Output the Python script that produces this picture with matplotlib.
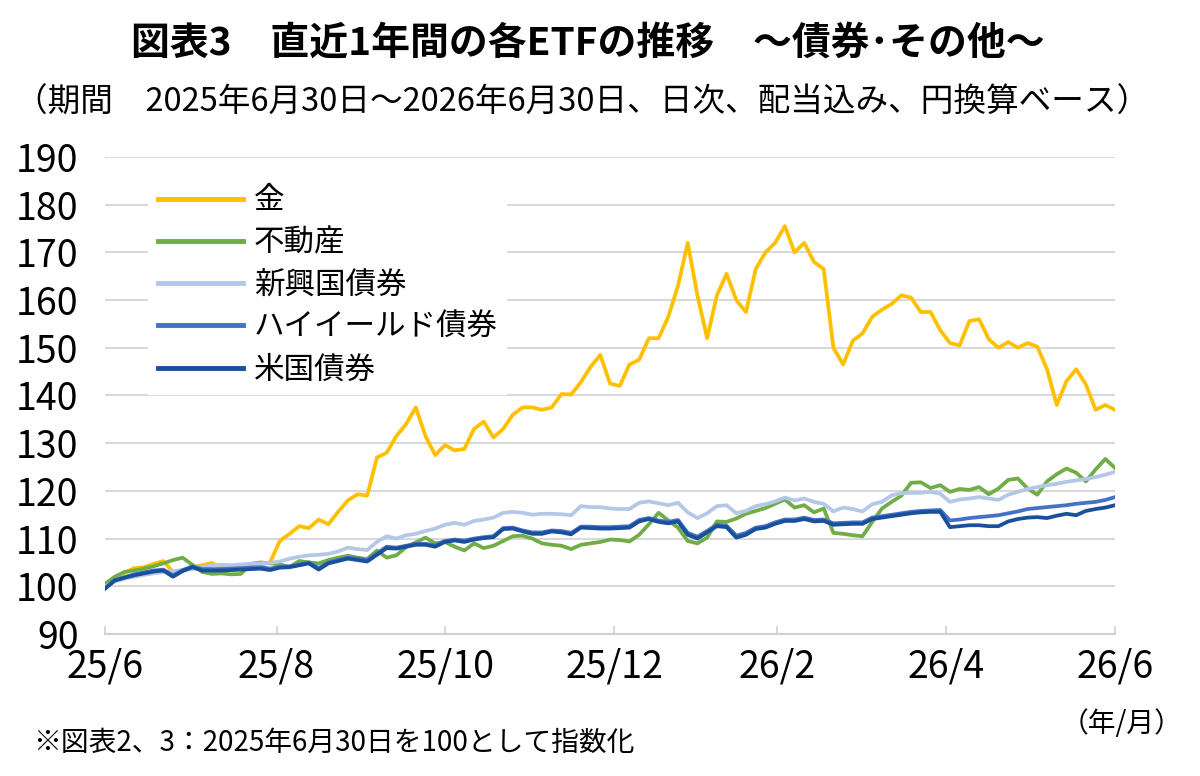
import pandas as pd
import matplotlib
matplotlib.use("Agg")
import matplotlib.pyplot as plt

plt.rcParams['font.family'] = ['Noto Sans CJK JP', 'DejaVu Sans']

dates = pd.date_range('2025-06-30', '2026-06-30', periods=105)

gold = [100, 101.8, 102.8, 103.8, 104, 104.7, 105.3, 103, 103.2, 104,
        104.4, 104.9, 103.8, 104, 103.8, 104, 104.5, 105, 109.5, 111,
        112.6, 112.2, 114, 113, 115.6, 118, 119.3, 119, 127, 128,
        131.5, 134, 137.5, 131.5, 127.5, 129.6, 128.5, 128.8, 133, 134.5,
        131.2, 133, 136, 137.5, 137.5, 137, 137.5, 140.3, 140.2, 142.8,
        146, 148.5, 142.5, 142, 146.5, 147.5, 152, 152, 156.5, 163,
        172, 161, 152, 161, 165.5, 160, 157.5, 166.5, 170, 172,
        175.5, 170, 172, 168, 166.5, 150, 146.5, 151.5, 153, 156.5,
        158, 159.2, 161, 160.5, 157.5, 157.5, 153.7, 151, 150.5, 155.6,
        156, 151.8, 150, 151.2, 150, 151, 150.2, 145.5, 138, 143,
        145.5, 142.3, 137, 138, 137]

reit = [100.5, 102, 103, 103.3, 103.7, 104.2, 104.8, 105.5, 106, 104.5,
        103, 102.6, 102.7, 102.5, 102.6, 104.7, 105, 104.8, 104.6, 104,
        105.3, 105, 104.8, 105.5, 106, 106.4, 106, 105.7, 107.5, 106,
        106.5, 108.2, 109.2, 110.2, 109, 109.3, 108.3, 107.5, 109, 108,
        108.5, 109.5, 110.5, 110.6, 110, 109, 108.7, 108.5, 107.8, 108.7,
        109, 109.3, 109.8, 109.7, 109.4, 110.8, 113, 115.4, 113.8, 112.3,
        109.5, 109, 110.2, 113.6, 113.5, 114.2, 115.2, 115.8, 116.4, 117.3,
        118.2, 116.5, 117, 115.5, 116.3, 111.2, 111, 110.7, 110.5, 113.5,
        116.3, 117.7, 119, 121.7, 121.8, 120.6, 121.2, 119.8, 120.4, 120.2,
        120.8, 119.3, 120.5, 122.3, 122.6, 120.5, 119.2, 122, 123.5, 124.7,
        123.8, 122, 124.5, 126.7, 124.8]

em_bond = [100, 101, 101.6, 102, 102.4, 102.7, 103, 103.2, 103.4, 103.6,
           104, 104.4, 104.5, 104.4, 104.6, 104.7, 104.8, 104.9, 105.2, 105.8,
           106.2, 106.5, 106.6, 106.8, 107.3, 108.1, 107.8, 107.6, 109.3, 110.5,
           110, 110.7, 111, 111.6, 112.1, 112.9, 113.3, 112.9, 113.7, 114,
           114.4, 115.4, 115.6, 115.4, 115, 115.2, 115.2, 115.1, 114.9, 116.8,
           116.6, 116.6, 116.3, 116.2, 116.2, 117.5, 117.8, 117.4, 117, 117.5,
           115.5, 114.3, 115.3, 116.8, 117, 115.3, 115.8, 116.8, 117.2, 117.8,
           118.6, 118, 118.4, 117.7, 117.3, 115.7, 116.5, 116.2, 115.7, 117.2,
           117.7, 119.1, 119.5, 119.6, 119.6, 119.8, 119.4, 117.7, 118.2, 118.4,
           118.7, 118.4, 118.1, 119.2, 119.8, 120.4, 120.8, 121.2, 121.5, 121.9,
           122.2, 122.5, 122.9, 123.4, 124]

hy_bond = [99.6, 101.3, 101.9, 102.5, 102.9, 103.3, 103.5, 102.3, 103.4, 104.2,
           103.6, 103.6, 103.6, 103.7, 103.8, 103.9, 104, 103.7, 104.1, 104.2,
           104.6, 105, 103.8, 105, 105.5, 106, 105.8, 105.5, 106.9, 108.3,
           108.1, 108.5, 108.9, 108.9, 108.6, 109.5, 109.8, 109.6, 110, 110.3,
           110.5, 112.2, 112.3, 111.7, 111.3, 111.3, 111.7, 111.6, 111.2, 112.5,
           112.5, 112.4, 112.4, 112.5, 112.6, 113.9, 114.3, 113.8, 113.5, 113.9,
           111.2, 110.4, 111.6, 112.9, 112.7, 110.6, 111.2, 112.3, 112.6, 113.4,
           114, 114, 114.4, 113.9, 114, 113.2, 113.3, 113.4, 113.4, 114.4,
           114.7, 115, 115.3, 115.6, 115.8, 115.9, 116, 113.8, 114, 114.3,
           114.5, 114.7, 114.9, 115.3, 115.7, 116.2, 116.4, 116.6, 116.8, 117,
           117.3, 117.5, 117.7, 118.1, 118.7]

us_bond = [99.5, 101.2, 101.8, 102.3, 102.7, 103.1, 103.3, 102, 103.2, 104,
           103.3, 103.3, 103.3, 103.4, 103.5, 103.6, 103.7, 103.4, 103.9, 104,
           104.4, 104.8, 103.5, 104.8, 105.3, 105.8, 105.5, 105.2, 106.6, 108,
           107.9, 108.3, 108.7, 108.7, 108.3, 109.3, 109.6, 109.3, 109.8, 110.1,
           110.3, 112, 112.1, 111.5, 111, 111, 111.5, 111.3, 110.9, 112.3,
           112.2, 112.1, 112.1, 112.2, 112.3, 113.6, 114.1, 113.5, 113.2, 113.6,
           110.8, 110, 111.3, 112.6, 112.4, 110.2, 110.8, 112, 112.3, 113.1,
           113.7, 113.7, 114.1, 113.6, 113.7, 112.9, 113, 113.1, 113.1, 114.1,
           114.4, 114.7, 115, 115.3, 115.5, 115.6, 115.6, 112.4, 112.6, 112.8,
           112.8, 112.6, 112.6, 113.6, 114.1, 114.4, 114.5, 114.3, 114.8, 115.2,
           114.9, 115.8, 116.2, 116.5, 117]

labels = ['金', '不動産', '新興国債券', 'ハイイールド債券', '米国債券']
colors = ['#FFC000', '#70AD47', '#B4C7E7', '#4472C4', '#1A4F9C']

tick_dates = pd.to_datetime(['2025-06-30', '2025-08-31', '2025-10-31', '2025-12-31',
                             '2026-02-28', '2026-04-30', '2026-06-30'])
tick_labels = ['25/6', '25/8', '25/10', '25/12', '26/2', '26/4', '26/6']

fig = plt.figure(figsize=(12, 7.76), dpi=100)
ax = fig.add_axes([0.0875, 0.183, 0.8417, 0.6147])

series = [gold, reit, em_bond, hy_bond, us_bond]
for i, (vals, lab, col) in enumerate(zip(series, labels, colors)):
    ax.plot(dates, vals, color=col, lw=2.7, label=lab, zorder=3 + i)

ax.set_ylim(90, 190)
ax.set_yticks(range(90, 191, 10))
ax.set_xlim(tick_dates[0], tick_dates[-1])
ax.set_xticks(tick_dates)
ax.set_xticklabels(tick_labels)

ax.grid(axis='y', color='#D9D9D9', lw=1.5)
ax.set_axisbelow(True)
for s in ['top', 'right', 'left']:
    ax.spines[s].set_visible(False)
ax.spines['bottom'].set_color('#D0D0D0')
ax.spines['bottom'].set_linewidth(1.5)
ax.tick_params(axis='y', length=0, pad=19, labelsize=27)
ax.tick_params(axis='x', direction='in', length=6, width=1.2, color='#D0D0D0',
               pad=10, labelsize=27)

leg = ax.legend(loc='upper left', bbox_to_anchor=(0.043, 0.96), fontsize=22,
                frameon=True, framealpha=1, edgecolor='none', fancybox=False,
                handlelength=2.8, handletextpad=0.35, labelspacing=0.37,
                borderpad=0.3, borderaxespad=0)
for h in leg.get_lines():
    h.set_linewidth(3.5)

fig.text(0.49, 0.945, '図表3　直近1年間の各ETFの推移　～債券･その他～',
         ha='center', va='center', fontsize=28, fontweight='bold')
fig.text(0.485, 0.868, '（期間　2025年6月30日～2026年6月30日、日次、配当込み、円換算ベース）',
         ha='center', va='center', fontsize=23.5)
fig.text(0.028, 0.043, '※図表2、3：2025年6月30日を100として指数化',
         ha='left', va='center', fontsize=20)
fig.text(0.935, 0.067, '（年/月）', ha='center', va='center', fontsize=20)

fig.savefig('out.png', dpi=100, facecolor='white')
